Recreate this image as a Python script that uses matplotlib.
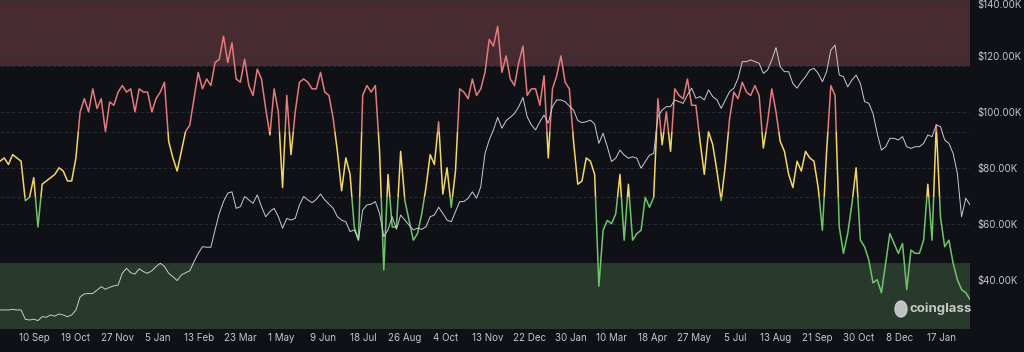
import numpy as np
import pandas as pd
import matplotlib
matplotlib.use("Agg")
import matplotlib.pyplot as plt
from matplotlib.patches import Rectangle, Ellipse

plt.rcParams['font.family'] = ['Inter', 'DejaVu Sans']

# Fear & Greed index, one value every 4 days from 2023-08-08
fng = [51, 52, 50, 53, 52, 51, 39, 40, 46, 31, 44, 45, 46, 47, 49, 48, 45, 45, 52, 66,
       70, 66, 73, 67, 70, 60, 69, 68, 72, 74, 72, 73, 66, 73, 72, 72, 66, 70, 72, 75,
       57, 52, 48, 54, 60, 62, 70, 78,
       73, 76, 74, 81, 82, 89, 81, 87, 76, 75, 82, 74, 71, 79, 76, 67, 59, 73, 66, 43,
       71, 53, 66, 75, 76, 75, 73, 73, 78, 72, 71, 64, 54, 42, 52, 47, 31, 27, 71, 74,
       72, 74, 54, 18, 47, 31,
       31, 54, 39, 33, 27, 29, 35, 43, 53, 50, 63, 41, 49, 37, 48, 73, 72, 70, 76, 71,
       73, 78, 88, 86, 92, 78, 83, 76, 74, 81, 86, 71, 73, 73, 68, 77, 52, 73, 77, 83,
       75, 73, 57, 44, 45, 52,
       51, 47, 13, 30, 33, 32, 35, 47, 27, 44, 27, 29, 30, 40, 37, 40, 70, 56, 66, 54,
       73, 71, 70, 76, 68, 68, 57, 47, 60, 56, 48, 39, 50, 64, 72, 70, 75, 72, 71, 74,
       71, 55, 63, 73, 66, 57,
       54, 47, 43, 51, 48, 54, 52, 51, 43, 30, 54, 74, 71, 31, 23, 29, 38, 49, 27, 25,
       21, 14, 15, 11, 20, 29, 26, 23, 26, 12, 24, 23, 23, 27, 44, 27, 62, 34, 25, 27,
       20, 15, 12, 11, 9]

# BTC price in $K, same dates
btc = [29.3, 29.3, 29.3, 29.5, 29.3, 29.3, 26.0, 25.7, 26.0, 25.5, 26.9, 26.7, 27.5, 27.1,
       27.9, 27.5, 26.9, 27.5, 29.3, 34.0, 35.0, 35.2, 35.2, 36.4, 37.6, 36.7, 37.4, 37.9,
       38.2, 42.4, 44.2, 42.6, 42.1, 44.0, 43.0, 42.4, 43.3, 44.8, 46.0, 44.8, 42.4, 41.2,
       39.8, 41.8, 42.6, 43.3, 46.5, 49.5,
       51.9, 51.7, 51.7, 57.9, 63.8, 68.0, 71.0, 71.5, 65.6, 66.2, 69.8, 68.6, 67.4, 70.4,
       66.2, 62.6, 64.4, 65.6, 62.6, 58.5, 62.0, 61.4, 62.0, 66.8, 69.8, 68.6, 67.6, 68.8,
       70.7, 68.6, 67.1, 65.6, 62.6, 61.4, 60.8, 57.3, 57.9, 54.3, 65.0, 66.8, 67.1, 68.0,
       63.8, 55.5, 57.9, 62.6,
       58.1, 63.2, 61.4, 59.6, 57.9, 58.5, 58.1, 59.0, 62.6, 63.2, 66.0, 63.8, 61.4, 60.8,
       64.4, 68.0, 68.0, 69.2, 71.5, 69.2, 73.3, 85.2, 90.0, 93.6, 98.1, 94.2, 96.9, 98.1,
       99.5, 101.9, 105.2, 98.3, 95.4, 93.6, 96.5, 98.9, 96.0, 101.9, 104.3, 104.3, 103.7,
       102.1, 100.7, 96.9, 96.2, 96.5,
       97.1, 95.7, 88.8, 92.4, 87.6, 82.3, 83.5, 86.4, 84.6, 83.5, 84.0, 83.5, 79.9, 82.3,
       84.6, 85.2, 98.3, 100.7, 101.9, 101.9, 104.3, 103.7, 103.1, 106.1, 108.5, 104.9,
       105.5, 104.3, 107.9, 105.5, 104.3, 101.3, 104.3, 107.3, 108.5, 112.0, 118.0, 118.0,
       118.6, 118.0, 117.4, 113.8, 115.0, 118.6, 123.0, 116.2,
       114.4, 114.4, 110.2, 108.5, 110.8, 112.6, 115.0, 115.6, 113.8, 110.8, 114.4, 122.1,
       123.9, 113.2, 112.6, 109.0, 111.4, 113.2, 110.2, 103.7, 103.1, 99.5, 92.4, 86.4,
       87.6, 90.6, 90.6, 90.0, 91.2, 87.6, 87.0, 87.6, 87.6, 88.8, 91.8, 91.2, 95.4, 94.8,
       90.0, 88.8, 85.2, 78.1, 62.6, 69.2, 66.8]

tick_dates = ['2023-09-10', '2023-10-19', '2023-11-27', '2024-01-05', '2024-02-13',
              '2024-03-23', '2024-05-01', '2024-06-09', '2024-07-18', '2024-08-26',
              '2024-10-04', '2024-11-13', '2024-12-22', '2025-01-30', '2025-03-10',
              '2025-04-18', '2025-05-27', '2025-07-05', '2025-08-13', '2025-09-21',
              '2025-10-30', '2025-12-08', '2026-01-17']
tick_labels = ['10 Sep', '19 Oct', '27 Nov', '5 Jan', '13 Feb', '23 Mar', '1 May', '9 Jun',
               '18 Jul', '26 Aug', '4 Oct', '13 Nov', '22 Dec', '30 Jan', '10 Mar', '18 Apr',
               '27 May', '5 Jul', '13 Aug', '21 Sep', '30 Oct', '8 Dec', '17 Jan']
price_ticks = [40, 60, 80, 100, 120, 140]

dates = pd.date_range('2023-08-08', periods=len(fng), freq='4D')

BG = '#0f1116'
GRID = '#2d3039'
P_LO, P_HI = 22.5, 140

fig = plt.figure(figsize=(10.24, 3.52), dpi=100, facecolor=BG)
ax = fig.add_axes([0, 23 / 352, 970 / 1024, 329 / 352])
ax.set_facecolor(BG)
ax.set_ylim(0, 100)
ax.set_xlim(pd.Timestamp('2023-08-08'), pd.Timestamp('2026-02-13'))

# zones
ax.axhspan(80, 100, color='#482a31', zorder=0, lw=0)
ax.axhspan(0, 20, color='#283a2b', zorder=0, lw=0)

# dashed grid: index levels + price levels
grid_levels = [20, 40, 60, 80] + [(p - P_LO) / (P_HI - P_LO) * 100 for p in price_ticks]
for lv in grid_levels:
    ax.axhline(lv, color=GRID, lw=0.6, ls=(0, (4, 3)), zorder=1)

# index line coloured by zone
zones = [(-10, 40, '#6fc46b'), (40, 60, '#f3d666'), (60, 110, '#e47a7c')]
for lo, hi, c in zones:
    ln, = ax.plot(dates, fng, color=c, lw=1.1, zorder=3)
    ln.set_clip_path(Rectangle((0, lo), 1, hi - lo, transform=ax.get_yaxis_transform()))

ax.set_yticks([])
ax.set_xticks(pd.to_datetime(tick_dates))
ax.set_xticklabels(tick_labels)
ax.tick_params(axis='x', length=0, pad=3, labelsize=7, labelcolor='#c3c6cd')
for s in ax.spines.values():
    s.set_visible(False)

# price on the right axis
ax2 = ax.twinx()
ax2.set_ylim(P_LO, P_HI)
ax2.plot(dates, btc, color='#c9cbd1', lw=0.7, zorder=4)
ax2.set_yticks(price_ticks)
ax2.set_yticklabels([f'${p:.2f}K' for p in price_ticks])
ax2.tick_params(axis='y', length=0, pad=5, labelsize=7, labelcolor='#c3c6cd')
# keep the top label inside the figure
ax2.get_yticklabels()[-1].set_verticalalignment('top')
for s in ax2.spines.values():
    s.set_visible(False)

# watermark
fig.add_artist(Ellipse((901 / 1024, 1 - 309 / 352), 12 / 1024, 16 / 352,
                       transform=fig.transFigure, color='#cfd0d2', alpha=0.9))
fig.text(910 / 1024, 1 - 309 / 352, 'coinglass', color='#d6d7da', fontsize=9.5,
         fontweight='bold', va='center', ha='left', alpha=0.9)

fig.savefig('out.png', dpi=100, facecolor=BG)
